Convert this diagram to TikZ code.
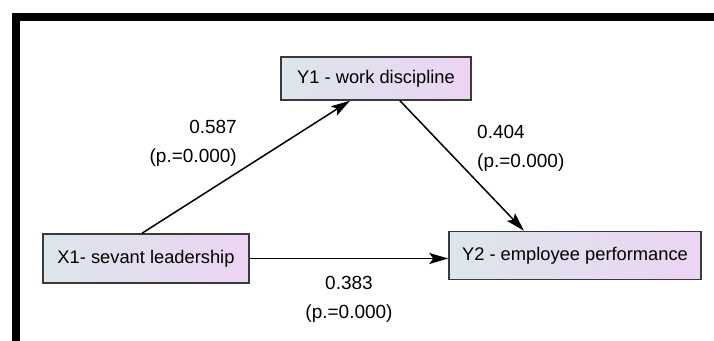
\documentclass[tikz,border=0pt]{standalone}
\usepackage{fontspec}
\setmainfont{Liberation Sans}
\usepackage{tikz}
\usetikzlibrary{positioning,arrows.meta,calc}
\usepackage{xcolor}
\definecolor{boxleft}{HTML}{DCE6EB}
\definecolor{boxright}{HTML}{ECD4F3}
\definecolor{boxline}{HTML}{3A3A3A}

\begin{document}
\begin{tikzpicture}[x=1pt, y=-1pt,
    box/.style={draw=boxline, line width=1.5pt, left color=boxleft, right color=boxright,
                font=\fontsize{18.3}{22}\selectfont, inner sep=0pt},
    arr/.style={-{Stealth[length=19pt,width=11pt,inset=4pt]}, line width=1.5pt},
    lbl/.style={font=\fontsize{19}{29}\selectfont, inner sep=0pt},
]
\useasboundingbox (0,0) rectangle (714,340);

% ===== Frame =====
\draw[line width=7.5pt, line join=miter] (15.75,345) -- (15.75,16.75) -- (720,16.75);

% ===== Variables =====
\node[box, minimum width=190pt, minimum height=43pt] at (376,78.5) (y1) {Y1 - work discipline};
\node[box, minimum width=206pt, minimum height=49pt] at (146,258.5) (x1) {X1- sevant leadership};
\node[box, minimum width=252pt, minimum height=48pt] at (575,255.5) (y2) {Y2 - employee performance};

% ===== Paths =====
\draw[arr] ([xshift=-4pt]x1.north) -- ([xshift=-26pt]y1.south);
\draw[arr] ([xshift=24pt]y1.south) -- ([xshift=-51pt]y2.north);
\draw[arr] (x1.east) -- (x1.east -| y2.west);

% ===== Coefficients =====
\node[lbl, align=right, anchor=east] at (237,143.5) (c1) {0.587\\(p.=0.000)};
\node[lbl, align=left, anchor=west] at (477,148.5) (c2) {0.404\\(p.=0.000)};
\node[lbl, align=center] at (349,299) (c3) {0.383\\(p.=0.000)};

\end{tikzpicture}
\end{document}
